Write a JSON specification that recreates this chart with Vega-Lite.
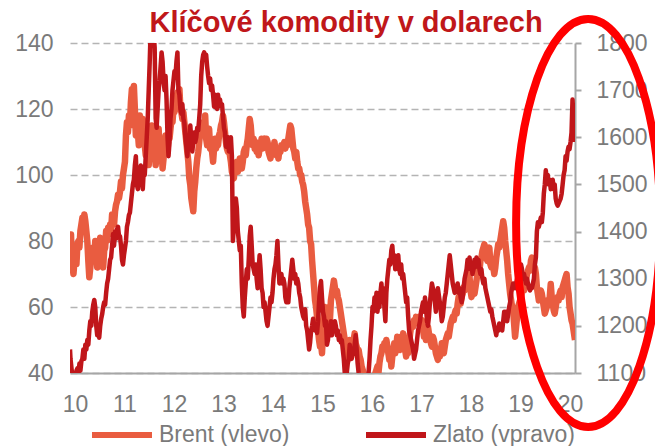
{
"$schema":"https://vega.github.io/schema/vega-lite/v6.json",
"width":505,"height":330,
"autosize":{"type":"none"},
"padding":{"left":70,"top":43,"right":80,"bottom":73},
"background":"white",
"config":{"view":{"stroke":null},"font":"Liberation Sans","axis":{"labelFont":"Liberation Sans","labelFontSize":23,"labelColor":"#7a7a7a"}},
"datasets":{
"brent":[
{"t":10.00,"v":80},{"t":10.01,"v":76},{"t":10.02,"v":82},{"t":10.03,"v":77},{"t":10.05,"v":72},{"t":10.07,"v":70},{"t":10.09,"v":74},{"t":10.11,"v":77},{"t":10.13,"v":73},{"t":10.15,"v":79},{"t":10.17,"v":80},{"t":10.19,"v":78},{"t":10.21,"v":83},{"t":10.23,"v":85},{"t":10.25,"v":87},{"t":10.27,"v":84},{"t":10.29,"v":88},{"t":10.31,"v":86},{"t":10.33,"v":83},{"t":10.35,"v":80},{"t":10.37,"v":74},{"t":10.39,"v":69},{"t":10.41,"v":72},{"t":10.43,"v":76},{"t":10.45,"v":74},{"t":10.47,"v":78},{"t":10.49,"v":75},{"t":10.51,"v":80},{"t":10.53,"v":77},{"t":10.55,"v":72},{"t":10.57,"v":76},{"t":10.59,"v":79},{"t":10.61,"v":81},{"t":10.63,"v":76},{"t":10.65,"v":74},{"t":10.67,"v":72},{"t":10.69,"v":77},{"t":10.71,"v":78},{"t":10.73,"v":83},{"t":10.75,"v":80},{"t":10.77,"v":84},{"t":10.79,"v":82},{"t":10.81,"v":85},{"t":10.83,"v":83},{"t":10.85,"v":88},{"t":10.87,"v":86},{"t":10.89,"v":85},{"t":10.91,"v":89},{"t":10.93,"v":91},{"t":10.95,"v":92},{"t":10.97,"v":94},{"t":10.99,"v":93},
{"t":11.01,"v":95},{"t":11.03,"v":98},{"t":11.05,"v":96},{"t":11.07,"v":100},{"t":11.09,"v":102},{"t":11.11,"v":104},{"t":11.13,"v":112},{"t":11.15,"v":116},{"t":11.17,"v":113},{"t":11.19,"v":118},{"t":11.21,"v":115},{"t":11.23,"v":122},{"t":11.25,"v":126},{"t":11.27,"v":124},{"t":11.29,"v":127},{"t":11.31,"v":120},{"t":11.33,"v":112},{"t":11.35,"v":115},{"t":11.37,"v":113},{"t":11.39,"v":109},{"t":11.41,"v":118},{"t":11.43,"v":112},{"t":11.45,"v":116},{"t":11.47,"v":117},{"t":11.49,"v":113},{"t":11.51,"v":109},{"t":11.53,"v":106},{"t":11.55,"v":110},{"t":11.57,"v":114},{"t":11.59,"v":103},{"t":11.61,"v":108},{"t":11.63,"v":112},{"t":11.65,"v":115},{"t":11.67,"v":110},{"t":11.69,"v":113},{"t":11.71,"v":108},{"t":11.73,"v":103},{"t":11.75,"v":106},{"t":11.77,"v":110},{"t":11.79,"v":114},{"t":11.81,"v":108},{"t":11.83,"v":111},{"t":11.85,"v":107},{"t":11.87,"v":102},{"t":11.89,"v":105},{"t":11.91,"v":109},{"t":11.93,"v":112},{"t":11.95,"v":110},{"t":11.97,"v":107},{"t":11.99,"v":112},
{"t":12.01,"v":111},{"t":12.03,"v":114},{"t":12.05,"v":117},{"t":12.07,"v":116},{"t":12.09,"v":120},{"t":12.11,"v":119},{"t":12.13,"v":124},{"t":12.15,"v":121},{"t":12.17,"v":125},{"t":12.19,"v":123},{"t":12.21,"v":126},{"t":12.23,"v":120},{"t":12.25,"v":119},{"t":12.27,"v":117},{"t":12.29,"v":119},{"t":12.31,"v":116},{"t":12.33,"v":113},{"t":12.35,"v":110},{"t":12.37,"v":107},{"t":12.39,"v":104},{"t":12.41,"v":99},{"t":12.43,"v":97},{"t":12.45,"v":93},{"t":12.47,"v":91},{"t":12.49,"v":89},{"t":12.51,"v":95},{"t":12.53,"v":98},{"t":12.55,"v":102},{"t":12.57,"v":105},{"t":12.59,"v":107},{"t":12.61,"v":110},{"t":12.63,"v":113},{"t":12.65,"v":115},{"t":12.67,"v":114},{"t":12.69,"v":116},{"t":12.71,"v":113},{"t":12.73,"v":118},{"t":12.75,"v":111},{"t":12.77,"v":109},{"t":12.79,"v":112},{"t":12.81,"v":114},{"t":12.83,"v":108},{"t":12.85,"v":110},{"t":12.87,"v":107},{"t":12.89,"v":104},{"t":12.91,"v":108},{"t":12.93,"v":111},{"t":12.95,"v":108},{"t":12.97,"v":110},{"t":12.99,"v":109},
{"t":13.01,"v":112},{"t":13.03,"v":113},{"t":13.05,"v":115},{"t":13.07,"v":116},{"t":13.09,"v":118},{"t":13.11,"v":116},{"t":13.13,"v":113},{"t":13.15,"v":110},{"t":13.17,"v":108},{"t":13.19,"v":107},{"t":13.21,"v":109},{"t":13.23,"v":106},{"t":13.25,"v":104},{"t":13.27,"v":101},{"t":13.29,"v":100},{"t":13.31,"v":99},{"t":13.33,"v":103},{"t":13.35,"v":102},{"t":13.37,"v":104},{"t":13.39,"v":101},{"t":13.41,"v":103},{"t":13.43,"v":105},{"t":13.45,"v":103},{"t":13.47,"v":102},{"t":13.49,"v":104},{"t":13.51,"v":107},{"t":13.53,"v":108},{"t":13.55,"v":106},{"t":13.57,"v":109},{"t":13.59,"v":111},{"t":13.61,"v":114},{"t":13.63,"v":117},{"t":13.65,"v":115},{"t":13.67,"v":111},{"t":13.69,"v":109},{"t":13.71,"v":111},{"t":13.73,"v":108},{"t":13.75,"v":110},{"t":13.77,"v":107},{"t":13.79,"v":109},{"t":13.81,"v":106},{"t":13.83,"v":108},{"t":13.85,"v":109},{"t":13.87,"v":111},{"t":13.89,"v":108},{"t":13.91,"v":110},{"t":13.93,"v":111},{"t":13.95,"v":109},{"t":13.97,"v":111},{"t":13.99,"v":110},
{"t":14.01,"v":107},{"t":14.03,"v":106},{"t":14.05,"v":105},{"t":14.07,"v":108},{"t":14.09,"v":109},{"t":14.11,"v":108},{"t":14.13,"v":110},{"t":14.15,"v":107},{"t":14.17,"v":106},{"t":14.19,"v":107},{"t":14.21,"v":105},{"t":14.23,"v":108},{"t":14.25,"v":107},{"t":14.27,"v":109},{"t":14.29,"v":108},{"t":14.31,"v":109},{"t":14.33,"v":110},{"t":14.35,"v":108},{"t":14.37,"v":110},{"t":14.39,"v":109},{"t":14.41,"v":111},{"t":14.43,"v":113},{"t":14.45,"v":115},{"t":14.47,"v":114},{"t":14.49,"v":111},{"t":14.51,"v":108},{"t":14.53,"v":107},{"t":14.55,"v":105},{"t":14.57,"v":107},{"t":14.59,"v":104},{"t":14.61,"v":102},{"t":14.63,"v":102},{"t":14.65,"v":100},{"t":14.67,"v":100},{"t":14.69,"v":98},{"t":14.71,"v":97},{"t":14.73,"v":95},{"t":14.75,"v":92},{"t":14.77,"v":90},{"t":14.79,"v":88},{"t":14.81,"v":85},{"t":14.83,"v":84},{"t":14.85,"v":80},{"t":14.87,"v":79},{"t":14.89,"v":74},{"t":14.91,"v":70},{"t":14.93,"v":66},{"t":14.95,"v":62},{"t":14.97,"v":60},{"t":14.99,"v":57},
{"t":15.01,"v":53},{"t":15.03,"v":50},{"t":15.05,"v":48},{"t":15.07,"v":49},{"t":15.09,"v":46},{"t":15.11,"v":52},{"t":15.13,"v":58},{"t":15.15,"v":60},{"t":15.17,"v":57},{"t":15.19,"v":55},{"t":15.21,"v":57},{"t":15.23,"v":60},{"t":15.25,"v":56},{"t":15.27,"v":62},{"t":15.29,"v":64},{"t":15.31,"v":66},{"t":15.33,"v":68},{"t":15.35,"v":66},{"t":15.37,"v":64},{"t":15.39,"v":65},{"t":15.41,"v":63},{"t":15.43,"v":62},{"t":15.45,"v":60},{"t":15.47,"v":58},{"t":15.49,"v":56},{"t":15.51,"v":54},{"t":15.53,"v":52},{"t":15.55,"v":50},{"t":15.57,"v":48},{"t":15.59,"v":46},{"t":15.61,"v":44},{"t":15.63,"v":47},{"t":15.65,"v":50},{"t":15.67,"v":49},{"t":15.69,"v":48},{"t":15.71,"v":47},{"t":15.73,"v":50},{"t":15.75,"v":52},{"t":15.77,"v":49},{"t":15.79,"v":48},{"t":15.81,"v":45},{"t":15.83,"v":47},{"t":15.85,"v":45},{"t":15.87,"v":44},{"t":15.89,"v":42},{"t":15.91,"v":41},{"t":15.93,"v":40},{"t":15.95,"v":38},{"t":15.97,"v":37},{"t":15.99,"v":35},
{"t":16.01,"v":33},{"t":16.03,"v":30},{"t":16.05,"v":29},{"t":16.07,"v":32},{"t":16.09,"v":34},{"t":16.11,"v":33},{"t":16.13,"v":36},{"t":16.15,"v":39},{"t":16.17,"v":40},{"t":16.19,"v":41},{"t":16.21,"v":42},{"t":16.23,"v":40},{"t":16.25,"v":43},{"t":16.27,"v":45},{"t":16.29,"v":46},{"t":16.31,"v":48},{"t":16.33,"v":47},{"t":16.35,"v":49},{"t":16.37,"v":48},{"t":16.39,"v":50},{"t":16.41,"v":48},{"t":16.43,"v":46},{"t":16.45,"v":44},{"t":16.47,"v":46},{"t":16.49,"v":42},{"t":16.51,"v":45},{"t":16.53,"v":47},{"t":16.55,"v":49},{"t":16.57,"v":46},{"t":16.59,"v":48},{"t":16.61,"v":51},{"t":16.63,"v":48},{"t":16.65,"v":50},{"t":16.67,"v":47},{"t":16.69,"v":51},{"t":16.71,"v":50},{"t":16.73,"v":52},{"t":16.75,"v":49},{"t":16.77,"v":47},{"t":16.79,"v":45},{"t":16.81,"v":47},{"t":16.83,"v":46},{"t":16.85,"v":49},{"t":16.87,"v":52},{"t":16.89,"v":54},{"t":16.91,"v":55},{"t":16.93,"v":54},{"t":16.95,"v":56},{"t":16.97,"v":55},{"t":16.99,"v":57},
{"t":17.01,"v":56},{"t":17.03,"v":55},{"t":17.05,"v":57},{"t":17.07,"v":56},{"t":17.09,"v":55},{"t":17.11,"v":56},{"t":17.13,"v":53},{"t":17.15,"v":51},{"t":17.17,"v":52},{"t":17.19,"v":50},{"t":17.21,"v":53},{"t":17.23,"v":54},{"t":17.25,"v":52},{"t":17.27,"v":51},{"t":17.29,"v":49},{"t":17.31,"v":48},{"t":17.33,"v":51},{"t":17.35,"v":50},{"t":17.37,"v":48},{"t":17.39,"v":46},{"t":17.41,"v":45},{"t":17.43,"v":44},{"t":17.45,"v":46},{"t":17.47,"v":45},{"t":17.49,"v":47},{"t":17.51,"v":49},{"t":17.53,"v":48},{"t":17.55,"v":46},{"t":17.57,"v":48},{"t":17.59,"v":50},{"t":17.61,"v":51},{"t":17.63,"v":52},{"t":17.65,"v":51},{"t":17.67,"v":53},{"t":17.69,"v":55},{"t":17.71,"v":56},{"t":17.73,"v":57},{"t":17.75,"v":56},{"t":17.77,"v":58},{"t":17.79,"v":59},{"t":17.81,"v":58},{"t":17.83,"v":61},{"t":17.85,"v":63},{"t":17.87,"v":62},{"t":17.89,"v":61},{"t":17.91,"v":63},{"t":17.93,"v":64},{"t":17.95,"v":66},{"t":17.97,"v":65},{"t":17.99,"v":67},
{"t":18.01,"v":68},{"t":18.03,"v":69},{"t":18.05,"v":70},{"t":18.07,"v":69},{"t":18.09,"v":65},{"t":18.11,"v":63},{"t":18.13,"v":65},{"t":18.15,"v":66},{"t":18.17,"v":64},{"t":18.19,"v":66},{"t":18.21,"v":68},{"t":18.23,"v":70},{"t":18.25,"v":72},{"t":18.27,"v":71},{"t":18.29,"v":74},{"t":18.31,"v":75},{"t":18.33,"v":77},{"t":18.35,"v":78},{"t":18.37,"v":79},{"t":18.39,"v":77},{"t":18.41,"v":75},{"t":18.43,"v":74},{"t":18.45,"v":76},{"t":18.47,"v":78},{"t":18.49,"v":73},{"t":18.51,"v":72},{"t":18.53,"v":74},{"t":18.55,"v":72},{"t":18.57,"v":70},{"t":18.59,"v":72},{"t":18.61,"v":75},{"t":18.63,"v":77},{"t":18.65,"v":79},{"t":18.67,"v":78},{"t":18.69,"v":80},{"t":18.71,"v":82},{"t":18.73,"v":84},{"t":18.75,"v":86},{"t":18.77,"v":84},{"t":18.79,"v":80},{"t":18.81,"v":77},{"t":18.83,"v":74},{"t":18.85,"v":70},{"t":18.87,"v":67},{"t":18.89,"v":64},{"t":18.91,"v":62},{"t":18.93,"v":60},{"t":18.95,"v":59},{"t":18.97,"v":55},{"t":18.99,"v":51},
{"t":19.01,"v":54},{"t":19.03,"v":57},{"t":19.05,"v":60},{"t":19.07,"v":61},{"t":19.09,"v":62},{"t":19.11,"v":63},{"t":19.13,"v":65},{"t":19.15,"v":66},{"t":19.17,"v":65},{"t":19.19,"v":67},{"t":19.21,"v":68},{"t":19.23,"v":70},{"t":19.25,"v":71},{"t":19.27,"v":72},{"t":19.29,"v":71},{"t":19.31,"v":74},{"t":19.33,"v":75},{"t":19.35,"v":72},{"t":19.37,"v":71},{"t":19.39,"v":72},{"t":19.41,"v":70},{"t":19.43,"v":66},{"t":19.45,"v":64},{"t":19.47,"v":62},{"t":19.49,"v":63},{"t":19.51,"v":65},{"t":19.53,"v":64},{"t":19.55,"v":62},{"t":19.57,"v":60},{"t":19.59,"v":58},{"t":19.61,"v":59},{"t":19.63,"v":60},{"t":19.65,"v":62},{"t":19.67,"v":61},{"t":19.69,"v":63},{"t":19.71,"v":67},{"t":19.73,"v":63},{"t":19.75,"v":61},{"t":19.77,"v":59},{"t":19.79,"v":58},{"t":19.81,"v":60},{"t":19.83,"v":62},{"t":19.85,"v":63},{"t":19.87,"v":62},{"t":19.89,"v":64},{"t":19.91,"v":65},{"t":19.93,"v":63},{"t":19.95,"v":66},{"t":19.97,"v":67},{"t":19.99,"v":68},
{"t":20.01,"v":69},{"t":20.03,"v":70},{"t":20.05,"v":66},{"t":20.07,"v":64},{"t":20.09,"v":60},{"t":20.11,"v":58},{"t":20.13,"v":56},{"t":20.15,"v":55},{"t":20.17,"v":53},{"t":20.19,"v":51},{"t":20.2,"v":50}
],
"zlato":[
{"t":10.00,"v":1150},{"t":10.01,"v":1130},{"t":10.03,"v":1110},{"t":10.05,"v":1090},{"t":10.07,"v":1080},{"t":10.09,"v":1100},{"t":10.11,"v":1085},{"t":10.13,"v":1105},{"t":10.15,"v":1110},{"t":10.17,"v":1095},{"t":10.19,"v":1120},{"t":10.21,"v":1105},{"t":10.23,"v":1125},{"t":10.25,"v":1130},{"t":10.27,"v":1150},{"t":10.29,"v":1130},{"t":10.31,"v":1160},{"t":10.33,"v":1150},{"t":10.35,"v":1170},{"t":10.37,"v":1160},{"t":10.39,"v":1190},{"t":10.41,"v":1210},{"t":10.43,"v":1200},{"t":10.45,"v":1230},{"t":10.47,"v":1245},{"t":10.49,"v":1255},{"t":10.51,"v":1240},{"t":10.53,"v":1200},{"t":10.55,"v":1180},{"t":10.57,"v":1195},{"t":10.59,"v":1175},{"t":10.61,"v":1200},{"t":10.63,"v":1215},{"t":10.65,"v":1225},{"t":10.67,"v":1240},{"t":10.69,"v":1250},{"t":10.71,"v":1245},{"t":10.73,"v":1270},{"t":10.75,"v":1290},{"t":10.77,"v":1300},{"t":10.79,"v":1320},{"t":10.81,"v":1340},{"t":10.83,"v":1345},{"t":10.85,"v":1370},{"t":10.87,"v":1395},{"t":10.89,"v":1370},{"t":10.91,"v":1400},{"t":10.93,"v":1385},{"t":10.95,"v":1405},{"t":10.97,"v":1410},{"t":10.99,"v":1390},
{"t":11.01,"v":1390},{"t":11.03,"v":1370},{"t":11.05,"v":1340},{"t":11.07,"v":1330},{"t":11.09,"v":1350},{"t":11.11,"v":1365},{"t":11.13,"v":1380},{"t":11.15,"v":1410},{"t":11.17,"v":1420},{"t":11.19,"v":1435},{"t":11.21,"v":1440},{"t":11.23,"v":1460},{"t":11.25,"v":1480},{"t":11.27,"v":1500},{"t":11.29,"v":1510},{"t":11.31,"v":1540},{"t":11.33,"v":1560},{"t":11.35,"v":1500},{"t":11.37,"v":1490},{"t":11.39,"v":1510},{"t":11.41,"v":1530},{"t":11.43,"v":1540},{"t":11.45,"v":1520},{"t":11.47,"v":1490},{"t":11.49,"v":1530},{"t":11.51,"v":1520},{"t":11.53,"v":1560},{"t":11.55,"v":1600},{"t":11.57,"v":1640},{"t":11.59,"v":1700},{"t":11.61,"v":1760},{"t":11.63,"v":1830},{"t":11.65,"v":1870},{"t":11.67,"v":1900},{"t":11.69,"v":1820},{"t":11.71,"v":1790},{"t":11.73,"v":1640},{"t":11.75,"v":1620},{"t":11.77,"v":1660},{"t":11.79,"v":1700},{"t":11.81,"v":1720},{"t":11.83,"v":1750},{"t":11.85,"v":1780},{"t":11.87,"v":1760},{"t":11.89,"v":1720},{"t":11.91,"v":1700},{"t":11.93,"v":1730},{"t":11.95,"v":1680},{"t":11.97,"v":1600},{"t":11.99,"v":1560},
{"t":12.01,"v":1590},{"t":12.03,"v":1640},{"t":12.05,"v":1660},{"t":12.07,"v":1700},{"t":12.09,"v":1720},{"t":12.11,"v":1740},{"t":12.13,"v":1730},{"t":12.15,"v":1760},{"t":12.17,"v":1780},{"t":12.19,"v":1700},{"t":12.21,"v":1690},{"t":12.23,"v":1660},{"t":12.25,"v":1650},{"t":12.27,"v":1670},{"t":12.29,"v":1640},{"t":12.31,"v":1630},{"t":12.33,"v":1600},{"t":12.35,"v":1580},{"t":12.37,"v":1560},{"t":12.39,"v":1590},{"t":12.41,"v":1600},{"t":12.43,"v":1625},{"t":12.45,"v":1595},{"t":12.47,"v":1570},{"t":12.49,"v":1590},{"t":12.51,"v":1610},{"t":12.53,"v":1590},{"t":12.55,"v":1600},{"t":12.57,"v":1620},{"t":12.59,"v":1615},{"t":12.61,"v":1640},{"t":12.63,"v":1670},{"t":12.65,"v":1730},{"t":12.67,"v":1760},{"t":12.69,"v":1775},{"t":12.71,"v":1780},{"t":12.73,"v":1765},{"t":12.75,"v":1775},{"t":12.77,"v":1750},{"t":12.79,"v":1730},{"t":12.81,"v":1715},{"t":12.83,"v":1725},{"t":12.85,"v":1700},{"t":12.87,"v":1710},{"t":12.89,"v":1690},{"t":12.91,"v":1665},{"t":12.93,"v":1690},{"t":12.95,"v":1665},{"t":12.97,"v":1660},{"t":12.99,"v":1690},
{"t":13.01,"v":1670},{"t":13.03,"v":1680},{"t":13.05,"v":1665},{"t":13.07,"v":1670},{"t":13.09,"v":1645},{"t":13.11,"v":1620},{"t":13.13,"v":1610},{"t":13.15,"v":1580},{"t":13.17,"v":1590},{"t":13.19,"v":1600},{"t":13.21,"v":1570},{"t":13.23,"v":1580},{"t":13.25,"v":1600},{"t":13.27,"v":1560},{"t":13.29,"v":1380},{"t":13.31,"v":1410},{"t":13.33,"v":1430},{"t":13.35,"v":1470},{"t":13.37,"v":1450},{"t":13.39,"v":1400},{"t":13.41,"v":1380},{"t":13.43,"v":1360},{"t":13.45,"v":1370},{"t":13.47,"v":1290},{"t":13.49,"v":1240},{"t":13.51,"v":1220},{"t":13.53,"v":1260},{"t":13.55,"v":1290},{"t":13.57,"v":1320},{"t":13.59,"v":1300},{"t":13.61,"v":1340},{"t":13.63,"v":1390},{"t":13.65,"v":1410},{"t":13.67,"v":1370},{"t":13.69,"v":1330},{"t":13.71,"v":1320},{"t":13.73,"v":1310},{"t":13.75,"v":1330},{"t":13.77,"v":1300},{"t":13.79,"v":1280},{"t":13.81,"v":1320},{"t":13.83,"v":1350},{"t":13.85,"v":1320},{"t":13.87,"v":1280},{"t":13.89,"v":1270},{"t":13.91,"v":1240},{"t":13.93,"v":1250},{"t":13.95,"v":1230},{"t":13.97,"v":1210},{"t":13.99,"v":1200},
{"t":14.01,"v":1220},{"t":14.03,"v":1240},{"t":14.05,"v":1260},{"t":14.07,"v":1250},{"t":14.09,"v":1270},{"t":14.11,"v":1300},{"t":14.13,"v":1320},{"t":14.15,"v":1330},{"t":14.17,"v":1350},{"t":14.19,"v":1380},{"t":14.21,"v":1330},{"t":14.23,"v":1290},{"t":14.25,"v":1300},{"t":14.27,"v":1310},{"t":14.29,"v":1290},{"t":14.31,"v":1300},{"t":14.33,"v":1290},{"t":14.35,"v":1260},{"t":14.37,"v":1250},{"t":14.39,"v":1270},{"t":14.41,"v":1250},{"t":14.43,"v":1280},{"t":14.45,"v":1300},{"t":14.47,"v":1320},{"t":14.49,"v":1340},{"t":14.51,"v":1320},{"t":14.53,"v":1300},{"t":14.55,"v":1310},{"t":14.57,"v":1290},{"t":14.59,"v":1300},{"t":14.61,"v":1290},{"t":14.63,"v":1270},{"t":14.65,"v":1260},{"t":14.67,"v":1240},{"t":14.69,"v":1230},{"t":14.71,"v":1220},{"t":14.73,"v":1215},{"t":14.75,"v":1235},{"t":14.77,"v":1200},{"t":14.79,"v":1190},{"t":14.81,"v":1170},{"t":14.83,"v":1150},{"t":14.85,"v":1165},{"t":14.87,"v":1190},{"t":14.89,"v":1200},{"t":14.91,"v":1215},{"t":14.93,"v":1200},{"t":14.95,"v":1190},{"t":14.97,"v":1200},{"t":14.99,"v":1185},
{"t":15.01,"v":1210},{"t":15.03,"v":1250},{"t":15.05,"v":1280},{"t":15.07,"v":1295},{"t":15.09,"v":1260},{"t":15.11,"v":1230},{"t":15.13,"v":1220},{"t":15.15,"v":1200},{"t":15.17,"v":1210},{"t":15.19,"v":1160},{"t":15.21,"v":1170},{"t":15.23,"v":1200},{"t":15.25,"v":1190},{"t":15.27,"v":1210},{"t":15.29,"v":1180},{"t":15.31,"v":1200},{"t":15.33,"v":1190},{"t":15.35,"v":1210},{"t":15.37,"v":1200},{"t":15.39,"v":1180},{"t":15.41,"v":1190},{"t":15.43,"v":1170},{"t":15.45,"v":1180},{"t":15.47,"v":1165},{"t":15.49,"v":1170},{"t":15.51,"v":1150},{"t":15.53,"v":1130},{"t":15.55,"v":1100},{"t":15.57,"v":1090},{"t":15.59,"v":1100},{"t":15.61,"v":1120},{"t":15.63,"v":1130},{"t":15.65,"v":1160},{"t":15.67,"v":1140},{"t":15.69,"v":1130},{"t":15.71,"v":1150},{"t":15.73,"v":1140},{"t":15.75,"v":1160},{"t":15.77,"v":1180},{"t":15.79,"v":1150},{"t":15.81,"v":1120},{"t":15.83,"v":1100},{"t":15.85,"v":1085},{"t":15.87,"v":1070},{"t":15.89,"v":1080},{"t":15.91,"v":1065},{"t":15.93,"v":1060},{"t":15.95,"v":1075},{"t":15.97,"v":1060},{"t":15.99,"v":1070},
{"t":16.01,"v":1090},{"t":16.03,"v":1100},{"t":16.05,"v":1130},{"t":16.07,"v":1170},{"t":16.09,"v":1200},{"t":16.11,"v":1240},{"t":16.13,"v":1230},{"t":16.15,"v":1260},{"t":16.17,"v":1240},{"t":16.19,"v":1270},{"t":16.21,"v":1230},{"t":16.23,"v":1250},{"t":16.25,"v":1240},{"t":16.27,"v":1270},{"t":16.29,"v":1290},{"t":16.31,"v":1260},{"t":16.33,"v":1280},{"t":16.35,"v":1240},{"t":16.37,"v":1210},{"t":16.39,"v":1270},{"t":16.41,"v":1300},{"t":16.43,"v":1320},{"t":16.45,"v":1340},{"t":16.47,"v":1330},{"t":16.49,"v":1360},{"t":16.51,"v":1370},{"t":16.53,"v":1340},{"t":16.55,"v":1350},{"t":16.57,"v":1320},{"t":16.59,"v":1340},{"t":16.61,"v":1330},{"t":16.63,"v":1350},{"t":16.65,"v":1320},{"t":16.67,"v":1310},{"t":16.69,"v":1330},{"t":16.71,"v":1300},{"t":16.73,"v":1310},{"t":16.75,"v":1290},{"t":16.77,"v":1270},{"t":16.79,"v":1250},{"t":16.81,"v":1260},{"t":16.83,"v":1220},{"t":16.85,"v":1190},{"t":16.87,"v":1180},{"t":16.89,"v":1170},{"t":16.91,"v":1160},{"t":16.93,"v":1150},{"t":16.95,"v":1130},{"t":16.97,"v":1140},{"t":16.99,"v":1150},
{"t":17.01,"v":1170},{"t":17.03,"v":1190},{"t":17.05,"v":1200},{"t":17.07,"v":1210},{"t":17.09,"v":1230},{"t":17.11,"v":1240},{"t":17.13,"v":1250},{"t":17.15,"v":1230},{"t":17.17,"v":1260},{"t":17.19,"v":1240},{"t":17.21,"v":1210},{"t":17.23,"v":1200},{"t":17.25,"v":1220},{"t":17.27,"v":1250},{"t":17.29,"v":1270},{"t":17.31,"v":1290},{"t":17.33,"v":1280},{"t":17.35,"v":1270},{"t":17.37,"v":1250},{"t":17.39,"v":1230},{"t":17.41,"v":1260},{"t":17.43,"v":1280},{"t":17.45,"v":1265},{"t":17.47,"v":1250},{"t":17.49,"v":1230},{"t":17.51,"v":1210},{"t":17.53,"v":1220},{"t":17.55,"v":1240},{"t":17.57,"v":1260},{"t":17.59,"v":1270},{"t":17.61,"v":1290},{"t":17.63,"v":1310},{"t":17.65,"v":1330},{"t":17.67,"v":1350},{"t":17.69,"v":1330},{"t":17.71,"v":1310},{"t":17.73,"v":1290},{"t":17.75,"v":1280},{"t":17.77,"v":1270},{"t":17.79,"v":1285},{"t":17.81,"v":1275},{"t":17.83,"v":1290},{"t":17.85,"v":1270},{"t":17.87,"v":1280},{"t":17.89,"v":1260},{"t":17.91,"v":1250},{"t":17.93,"v":1260},{"t":17.95,"v":1280},{"t":17.97,"v":1300},{"t":17.99,"v":1310},
{"t":18.01,"v":1320},{"t":18.03,"v":1340},{"t":18.05,"v":1330},{"t":18.07,"v":1345},{"t":18.09,"v":1320},{"t":18.11,"v":1330},{"t":18.13,"v":1310},{"t":18.15,"v":1320},{"t":18.17,"v":1340},{"t":18.19,"v":1325},{"t":18.21,"v":1345},{"t":18.23,"v":1330},{"t":18.25,"v":1340},{"t":18.27,"v":1320},{"t":18.29,"v":1310},{"t":18.31,"v":1320},{"t":18.33,"v":1300},{"t":18.35,"v":1290},{"t":18.37,"v":1300},{"t":18.39,"v":1280},{"t":18.41,"v":1270},{"t":18.43,"v":1260},{"t":18.45,"v":1250},{"t":18.47,"v":1240},{"t":18.49,"v":1230},{"t":18.51,"v":1235},{"t":18.53,"v":1220},{"t":18.55,"v":1210},{"t":18.57,"v":1200},{"t":18.59,"v":1190},{"t":18.61,"v":1180},{"t":18.63,"v":1195},{"t":18.65,"v":1190},{"t":18.67,"v":1205},{"t":18.69,"v":1195},{"t":18.71,"v":1200},{"t":18.73,"v":1190},{"t":18.75,"v":1210},{"t":18.77,"v":1230},{"t":18.79,"v":1220},{"t":18.81,"v":1230},{"t":18.83,"v":1210},{"t":18.85,"v":1225},{"t":18.87,"v":1240},{"t":18.89,"v":1250},{"t":18.91,"v":1270},{"t":18.93,"v":1280},{"t":18.95,"v":1290},{"t":18.97,"v":1285},{"t":18.99,"v":1280},
{"t":19.01,"v":1290},{"t":19.03,"v":1300},{"t":19.05,"v":1315},{"t":19.07,"v":1320},{"t":19.09,"v":1310},{"t":19.11,"v":1330},{"t":19.13,"v":1320},{"t":19.15,"v":1300},{"t":19.17,"v":1310},{"t":19.19,"v":1300},{"t":19.21,"v":1290},{"t":19.23,"v":1300},{"t":19.25,"v":1290},{"t":19.27,"v":1280},{"t":19.29,"v":1275},{"t":19.31,"v":1285},{"t":19.33,"v":1280},{"t":19.35,"v":1290},{"t":19.37,"v":1300},{"t":19.39,"v":1330},{"t":19.41,"v":1345},{"t":19.43,"v":1400},{"t":19.45,"v":1420},{"t":19.47,"v":1410},{"t":19.49,"v":1420},{"t":19.51,"v":1430},{"t":19.53,"v":1420},{"t":19.55,"v":1440},{"t":19.57,"v":1480},{"t":19.59,"v":1500},{"t":19.61,"v":1530},{"t":19.63,"v":1510},{"t":19.65,"v":1520},{"t":19.67,"v":1500},{"t":19.69,"v":1510},{"t":19.71,"v":1490},{"t":19.73,"v":1500},{"t":19.75,"v":1510},{"t":19.77,"v":1490},{"t":19.79,"v":1500},{"t":19.81,"v":1470},{"t":19.83,"v":1460},{"t":19.85,"v":1455},{"t":19.87,"v":1460},{"t":19.89,"v":1465},{"t":19.91,"v":1470},{"t":19.93,"v":1480},{"t":19.95,"v":1500},{"t":19.97,"v":1520},{"t":19.99,"v":1530},
{"t":20.01,"v":1560},{"t":20.03,"v":1550},{"t":20.05,"v":1570},{"t":20.07,"v":1580},{"t":20.09,"v":1575},{"t":20.11,"v":1590},{"t":20.13,"v":1610},{"t":20.15,"v":1680},{"t":20.17,"v":1640},{"t":20.18,"v":1590}
]},
"layer":[
{"data":{"name":"brent"},
 "mark":{"type":"line","strokeWidth":6.5,"clip":true,"strokeJoin":"round"},
 "encoding":{
  "x":{"field":"t","type":"quantitative","scale":{"domain":[10,20.2],"nice":false,"zero":false},
   "axis":{"values":[10.1,11.1,12.1,13.1,14.1,15.1,16.1,17.1,18.1,19.1,20.1],"labelExpr":"floor(datum.value)","grid":false,"ticks":false,"tickSize":0,"domain":true,"domainColor":"#a6a6a6","domainWidth":2,"labelPadding":20,"title":null,"labelFlush":false,"labelOverlap":false}},
  "y":{"field":"v","type":"quantitative","scale":{"domain":[40,140],"nice":false,"zero":false},
   "axis":{"orient":"left","values":[40,60,80,100,120,140],"grid":true,"gridDash":[7,4],"gridColor":"#b4b4b4","gridWidth":1.5,"domain":false,"ticks":false,"tickSize":0,"labelPadding":17,"title":null}},
  "color":{"datum":"Brent (vlevo)","scale":{"domain":["Brent (vlevo)","Zlato (vpravo)"],"range":["#E95C40","#C0161A"]},
   "legend":{"orient":"none","legendX":19,"legendY":359,"direction":"horizontal","title":null,"symbolType":"stroke","symbolSize":3600,"symbolStrokeWidth":6,"labelFontSize":23,"labelColor":"#7a7a7a","labelFont":"Liberation Sans","labelOffset":4,"columnPadding":64,"padding":0}}
 }},
{"data":{"name":"zlato"},
 "mark":{"type":"line","strokeWidth":4.5,"clip":true,"strokeJoin":"round"},
 "encoding":{
  "x":{"field":"t","type":"quantitative"},
  "y":{"field":"v","type":"quantitative","scale":{"domain":[1100,1800],"nice":false,"zero":false},
   "axis":{"orient":"right","values":[1100,1200,1300,1400,1500,1600,1700,1800],"format":"d","grid":false,"domain":true,"domainColor":"#a6a6a6","domainWidth":2,"ticks":true,"tickSize":6,"tickColor":"#a6a6a6","tickWidth":2,"labelPadding":15,"title":null}},
  "color":{"datum":"Zlato (vpravo)"}
 }},
{"data":{"values":[{}]},
 "layer":[
  {"mark":{"type":"point","shape":"M0,-1C0.195,-1 0.353,-0.552 0.353,0C0.353,0.552 0.195,1 0,1C-0.195,1 -0.353,0.552 -0.353,0C-0.353,-0.552 -0.195,-1 0,-1Z","size":166464,"filled":false,"stroke":"#FF0000","strokeWidth":8,"opacity":1},
   "encoding":{
    "x":{"datum":20.465,"type":"quantitative"},
    "y":{"datum":85.45,"type":"quantitative","scale":{"domain":[40,140],"nice":false,"zero":false},"axis":null}
   }},
  {"mark":{"type":"text","text":"Klíčové komodity v dolarech","font":"Liberation Sans","fontSize":29,"fontWeight":"bold","color":"#C0171A","align":"center","baseline":"alphabetic"},
   "encoding":{
    "x":{"datum":15.576,"type":"quantitative"},
    "y":{"datum":143.33,"type":"quantitative","scale":{"domain":[40,140],"nice":false,"zero":false},"axis":null}
   }}
 ]}
],
"resolve":{"scale":{"y":"independent"}}
}
